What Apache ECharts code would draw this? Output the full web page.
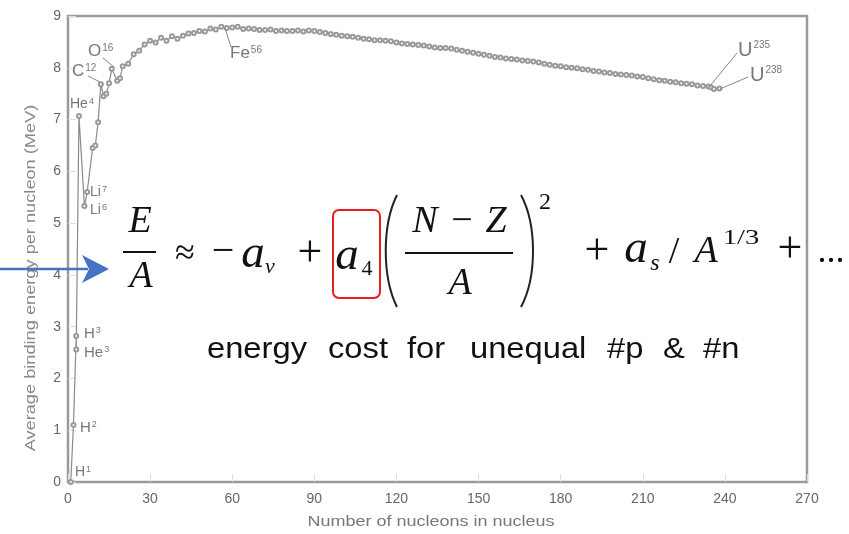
<!DOCTYPE html>
<html>
<head>
<meta charset="utf-8">
<script src="https://cdn.jsdelivr.net/npm/echarts@6/dist/echarts.min.js"></script>
<style>
  html, body { margin: 0; padding: 0; background: #fff; }
  #root1 { width: 849px; height: 534px; }
</style>
</head>
<body>
<div id="root1"></div>
<script>
// mass number A and binding energy per nucleon (MeV)
const massNumbers = [1, 2, 3, 3, 4, 6, 7, 9, 10, 11, 12, 13, 14, 15, 16, 18, 19, 20, 22, 24, 26, 28, 30, 32, 34, 36, 38, 40,
  42, 44, 46, 48, 50, 52, 54, 56, 58, 60, 62, 64, 66, 68, 70, 72, 74, 76, 78, 80, 82, 84, 86, 88, 90, 92, 94, 96, 98, 100,
  102, 104, 106, 108, 110, 112, 114, 116, 118, 120, 122, 124, 126, 128, 130, 132, 134, 136, 138, 140, 142, 144, 146, 148, 150,
  152, 154, 156, 158, 160, 162, 164, 166, 168, 170, 172, 174, 176, 178, 180, 182, 184, 186, 188, 190, 192, 194, 196, 198, 200,
  202, 204, 206, 208, 210, 212, 214, 216, 218, 220, 222, 224, 226, 228, 230, 232, 234, 235, 236, 238];
const bindingEnergy = [0, 1.1, 2.82, 2.56, 7.07, 5.33, 5.6, 6.45, 6.5, 6.95, 7.68, 7.45, 7.5, 7.7, 7.98, 7.75, 7.8, 8.03, 8.08, 8.26, 8.33, 8.45, 8.52, 8.49, 8.58, 8.52, 8.61,
  8.56, 8.62, 8.66, 8.67, 8.71, 8.7, 8.76, 8.74, 8.79, 8.77, 8.78, 8.79, 8.75, 8.76, 8.75, 8.73, 8.73, 8.74, 8.71, 8.72, 8.71, 8.71, 8.72, 8.7, 8.72, 8.71,
  8.69, 8.67, 8.65, 8.64, 8.62, 8.61, 8.6, 8.58, 8.56, 8.55, 8.53, 8.53, 8.52, 8.51, 8.49, 8.47, 8.46, 8.45, 8.44, 8.43, 8.41, 8.39, 8.38, 8.38,
  8.37, 8.35, 8.33, 8.31, 8.29, 8.27, 8.25, 8.23, 8.21, 8.2, 8.18, 8.17, 8.16, 8.14, 8.13, 8.12, 8.1, 8.08, 8.06, 8.04, 8.03, 8.01, 8.0, 7.99,
  7.97, 7.96, 7.94, 7.93, 7.91, 7.9, 7.88, 7.87, 7.86, 7.85, 7.83, 7.82, 7.8, 7.78, 7.76, 7.75, 7.73, 7.72, 7.7, 7.69, 7.68, 7.66, 7.65,
  7.64, 7.62, 7.59, 7.6, 7.57];
const xTicks = { min: 0, max: 270, step: 30 };
const yTicks = { min: 0, max: 9, step: 1 };
const xTitle = 'Number of nucleons in nucleus';
const yTitle = 'Average binding energy per nucleon (MeV)';

const curve = massNumbers.map((a, i) => [a, bindingEnergy[i]]);

const chartDom = document.getElementById('root1');
const myChart = echarts.init(chartDom, null, { renderer: 'canvas' });

// isotope label: symbol with raised mass number
function lab(name, sup, x, capTop, size, supSize) {
  return {
    type: 'text', x: x, y: capTop - 0.13 * size, z: 50,
    style: {
      text: '{m|' + name + '}{s|' + sup + '}', x: 0, y: 0, textAlign: 'left', textVerticalAlign: 'top',
      rich: {
        m: { fill: '#777', fontSize: size, fontFamily: 'Liberation Sans' },
        s: { fill: '#777', fontSize: supSize, fontFamily: 'Liberation Sans', verticalAlign: 'top', padding: [0, 0, 0, 1] }
      }
    }
  };
}
function leader(x1, y1, x2, y2) {
  return { type: 'line', z: 50, shape: { x1: x1, y1: y1, x2: x2, y2: y2 }, style: { stroke: '#888', lineWidth: 1 } };
}
// formula glyph (x = centre, base = baseline)
function fx(text, x, base, size, italic, sx) {
  return {
    type: 'text', x: x, y: base - 0.33 * size, scaleX: sx || 1, z: 100,
    style: { text: text, x: 0, y: 0, fill: '#111', font: (italic ? 'italic ' : '') + size + 'px "Liberation Serif"', textAlign: 'center', textVerticalAlign: 'middle' }
  };
}
function bar(x1, x2, y) {
  return { type: 'line', z: 100, shape: { x1: x1, y1: y, x2: x2, y2: y }, style: { stroke: '#111', lineWidth: 1.8 } };
}
function word(text, x, base) {
  return {
    type: 'text', x: x, y: base - 0.35 * 30, scaleX: 1.09, z: 100,
    style: { text: text, x: 0, y: 0, fill: '#111', font: '30px "Liberation Sans"', textAlign: 'left', textVerticalAlign: 'middle' }
  };
}

const graphics = [
  lab('He', '4', 70, 99, 14, 9),
  lab('C', '12', 72, 65, 17, 10), leader(88, 76, 100, 82),
  lab('O', '16', 88, 45, 17, 10), leader(103, 58, 114, 67),
  lab('Fe', '56', 230, 47, 17, 10), leader(225, 28, 231, 47),
  lab('Li', '7', 90, 187, 14, 9),
  lab('Li', '6', 90, 205, 14, 9),
  lab('H', '3', 84, 328, 15, 9),
  lab('He', '3', 84, 347, 15, 9),
  lab('H', '2', 80, 422, 15, 9),
  lab('H', '1', 75, 467, 14, 9),
  lab('U', '235', 738, 43, 20, 10), leader(737, 53, 710, 86),
  lab('U', '238', 750, 68, 20, 10), leader(748, 77, 720, 89),

  // axis titles, stretched along their length like the original
  {
    type: 'text', x: 431, y: 522, scaleX: 1.2, z: 50,
    style: { text: xTitle, x: 0, y: 0, fill: '#777', font: '15px "Liberation Sans"', textAlign: 'center', textVerticalAlign: 'middle' }
  },
  {
    type: 'text', x: 31, y: 278, rotation: Math.PI / 2, scaleX: 1.3, z: 50,
    style: { text: yTitle, x: 0, y: 0, fill: '#888', font: '14px "Liberation Sans"', textAlign: 'center', textVerticalAlign: 'middle' }
  },

  // formula
  fx('E', 140, 235, 38, true), bar(123, 156, 252), fx('A', 141, 290, 38, true),
  fx('\u2248', 185, 266, 36, false),
  fx('\u2212', 223, 266, 40, false),
  fx('a', 253, 270, 47, true), fx('v', 270, 274, 22, true),
  fx('+', 310, 269, 44, false),
  { type: 'rect', z: 100, shape: { x: 333, y: 210, width: 47, height: 88, r: 6 }, style: { fill: 'none', stroke: '#e8201c', lineWidth: 2 } },
  fx('a', 347, 272, 47, true), fx('4', 367, 276, 22, false),
  { type: 'bezierCurve', z: 100, shape: { x1: 397, y1: 195, cpx1: 382, cpy1: 225, cpx2: 382, cpy2: 277, x2: 397, y2: 307 }, style: { stroke: '#222', lineWidth: 2, fill: 'none' } },
  fx('N', 425, 235, 38, true), fx('\u2212', 462, 235, 38, false), fx('Z', 496, 235, 38, true),
  bar(405, 513, 253), fx('A', 460, 297, 38, true),
  { type: 'bezierCurve', z: 100, shape: { x1: 521, y1: 195, cpx1: 537, cpy1: 225, cpx2: 537, cpy2: 277, x2: 521, y2: 307 }, style: { stroke: '#222', lineWidth: 2, fill: 'none' } },
  fx('2', 545, 211, 24, false),
  fx('+', 597, 267, 44, false),
  fx('a', 636, 265, 47, true), fx('s', 655, 272, 24, true),
  fx('/', 674, 266, 38, false),
  fx('A', 706, 265, 38, true),
  fx('1/3', 741, 245, 22, false, 1.3),
  fx('+', 790, 265, 44, false),
  fx('...', 831, 264, 36, false),

  word('energy', 207, 360), word('cost', 328, 360), word('for', 407, 360),
  word('unequal', 470, 360), word('#p', 607, 360), word('&', 663, 360), word('#n', 703, 360),

  // arrow
  { type: 'line', z: 100, shape: { x1: 0, y1: 269, x2: 88, y2: 269 }, style: { stroke: '#4472c4', lineWidth: 2.5 } },
  { type: 'polygon', z: 100, shape: { points: [[82, 255], [109, 269], [82, 283], [89, 269]] }, style: { fill: '#4472c4' } }
];

const option = {
  animation: false,
  backgroundColor: '#fff',
  grid: {
    left: 68, right: 42, top: 16, bottom: 52,
    show: true, borderColor: '#9a9a9a', borderWidth: 2.5
  },
  xAxis: {
    type: 'value',
    min: xTicks.min, max: xTicks.max, interval: xTicks.step,
    axisLine: { show: false },
    axisTick: { inside: true, length: 8, lineStyle: { color: '#ddd' } },
    axisLabel: { color: '#666', fontSize: 14, fontFamily: 'Liberation Sans', margin: 10 },
    splitLine: { show: false }
  },
  yAxis: {
    type: 'value',
    min: yTicks.min, max: yTicks.max, interval: yTicks.step,
    axisLine: { show: false },
    axisTick: { inside: true, length: 8, lineStyle: { color: '#ddd' } },
    axisLabel: { color: '#666', fontSize: 14, fontFamily: 'Liberation Sans', margin: 7 },
    splitLine: { show: false }
  },
  series: [{
    type: 'line',
    data: curve,
    symbol: 'emptyCircle',
    symbolSize: 4,
    itemStyle: { color: '#999', borderWidth: 1 },
    lineStyle: { color: '#8a8a8a', width: 1.2 },
    z: 3
  }],
  graphic: graphics
};

myChart.setOption(option);
</script>
</body>
</html>
